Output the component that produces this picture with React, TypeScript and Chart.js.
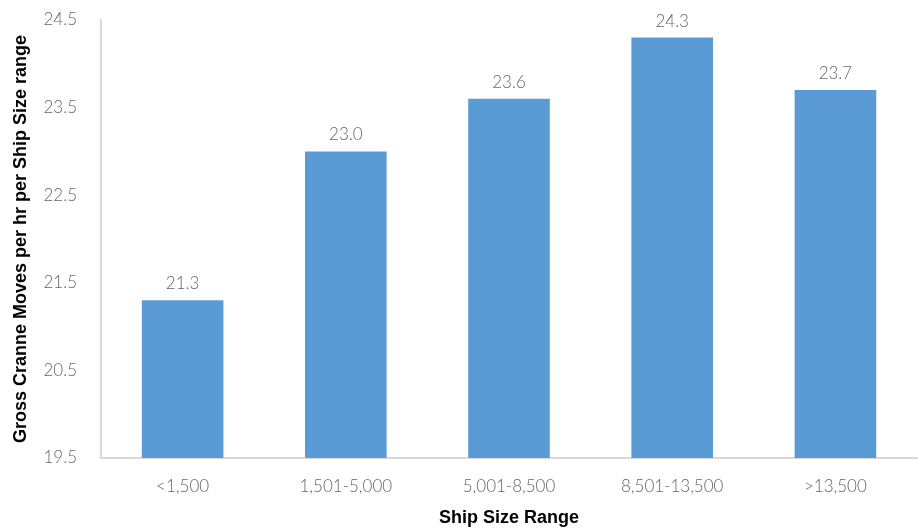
import React, { useEffect, useRef } from "react";
import { Chart, registerables } from "chart.js";

Chart.register(...registerables);

const categories = ["<1,500", "1,501-5,000", "5,001-8,500", "8,501-13,500", ">13,500"];
const values = [21.3, 23.0, 23.6, 24.3, 23.7];
const yMin = 19.5;
const yMax = 24.5;
const yStep = 1;

const FONT = "Lato, 'Open Sans', sans-serif";
const TITLE_FONT = "Arial, 'Liberation Sans', sans-serif";

const labelPlugin = {
  id: "barLabels",
  afterDatasetsDraw(chart: any) {
    const ctx = chart.ctx;
    const meta = chart.getDatasetMeta(0);
    ctx.save();
    ctx.fillStyle = "#666666";
    ctx.font = `300 17px ${FONT}`;
    ctx.textAlign = "center";
    ctx.textBaseline = "bottom";
    meta.data.forEach((bar: any, i: number) => {
      ctx.fillText(values[i].toFixed(1), bar.x, bar.y - 8);
    });
    ctx.restore();
  },
};

export default function App() {
  const ref = useRef<HTMLCanvasElement | null>(null);
  useEffect(() => {
    document.body.style.margin = "0";
    const chart = new Chart(ref.current!, {
      type: "bar",
      data: {
        labels: categories,
        datasets: [
          {
            data: values,
            backgroundColor: "#5B9BD5",
            categoryPercentage: 1,
            barPercentage: 0.5,
          },
        ],
      },
      options: {
        animation: false,
        responsive: false,
        layout: { padding: { top: 20, right: 1, left: 10, bottom: 0 } },
        plugins: { legend: { display: false }, tooltip: { enabled: false } },
        scales: {
          x: {
            grid: { display: false },
            border: { display: true, color: "#d9d9d9", width: 2 },
            ticks: { color: "#666666", font: { family: FONT, size: 17, weight: "300" }, padding: 10 },
            title: {
              display: true,
              text: "Ship Size Range",
              color: "#000000",
              font: { family: TITLE_FONT, size: 18, weight: "bold" },
              padding: { top: 6, bottom: 0 },
            },
            afterFit(scale: any) {
              scale.height = 71;
              scale.paddingLeft = 0;
              scale.paddingRight = 0;
            },
          },
          y: {
            min: yMin,
            max: yMax,
            grid: { display: false },
            border: { display: true, color: "#d9d9d9", width: 2 },
            ticks: {
              stepSize: yStep,
              color: "#666666",
              font: { family: FONT, size: 17, weight: "300" },
              padding: 16,
              callback: (v: any) => Number(v).toFixed(1),
            },
            title: {
              display: true,
              text: "Gross Cranne Moves per hr per Ship Size range",
              color: "#000000",
              font: { family: TITLE_FONT, size: 18, weight: "bold" },
              padding: { top: 0, bottom: 0 },
            },
            afterFit(scale: any) {
              scale.width = 91;
              scale.paddingTop = 0;
              scale.paddingBottom = 0;
            },
          },
        },
      },
      plugins: [labelPlugin],
    });
    return () => chart.destroy();
  }, []);
  return (
    <div style={{ width: 918, height: 529 }}>
      <canvas ref={ref} width={918} height={529} style={{ display: "block" }} />
    </div>
  );
}
